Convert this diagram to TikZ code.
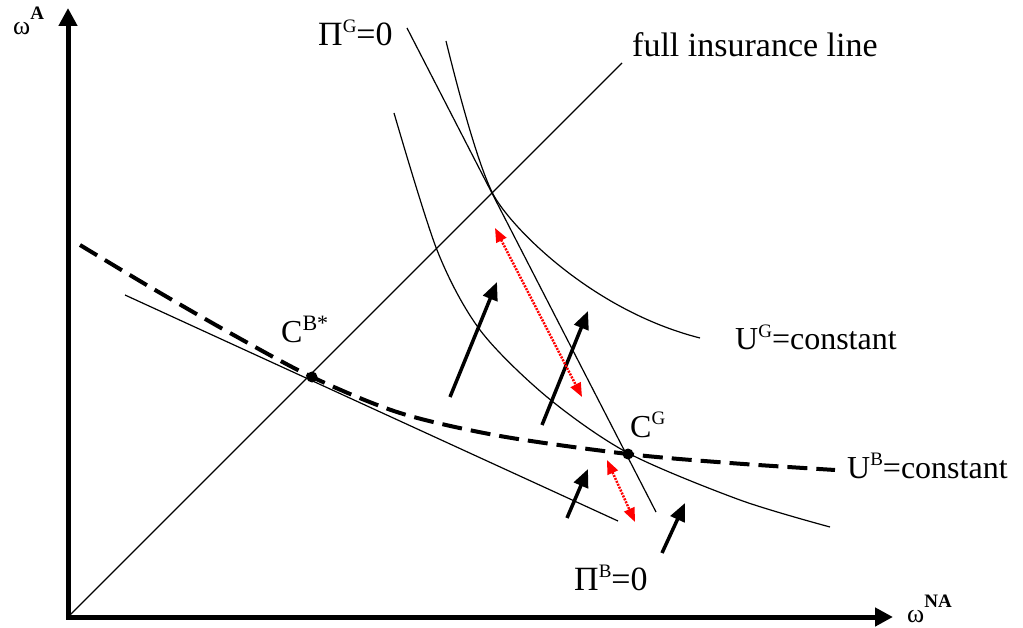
\documentclass[tikz,border=0pt]{standalone}
\usepackage{fontspec}
\setmainfont{Liberation Serif}
\usetikzlibrary{arrows.meta}
\newcommand\supx[1]{\raisebox{13pt}{\fontsize{19}{20}\selectfont #1}}
\newcommand\axsup[1]{\raisebox{15pt}{\fontsize{19}{20}\selectfont\bfseries #1}}
\begin{document}
\begin{tikzpicture}[x=1pt,y=-1pt,
  axis/.style={line width=5pt,{Triangle[length=18pt,width=18pt]}-{Triangle[length=18pt,width=18pt]}},
  thinline/.style={line width=1.2pt},
  ubcurve/.style={line width=4pt,dash pattern=on 20pt off 9pt},
  push/.style={line width=3.5pt,-{Triangle[length=18pt,width=15pt]}},
  slide/.style={red,line width=2.5pt,dash pattern=on 2pt off 1.2pt,{Triangle[length=14pt,width=11pt]}-{Triangle[length=14pt,width=11pt]}},
  dot/.style={circle,fill,inner sep=0pt,minimum size=11pt},
  lbl/.style={inner sep=0pt,anchor=base west,font=\fontsize{32}{36}\selectfont},
  pilbl/.style={lbl,font=\fontsize{34}{38}\selectfont},
  axlbl/.style={inner sep=0pt,anchor=base west,font=\fontsize{26}{30}\selectfont}]
\useasboundingbox (0,0) rectangle (1023,628);
% axes
\coordinate (O) at (68,617);
\coordinate (ytip) at (68,8);
\coordinate (xtip) at (893,617);
\draw[axis] (ytip) -- (O) -- (xtip);
\node[axlbl] (wA) at (13,35) {ω\axsup{A}};
\node[axlbl] (wNA) at (907,622) {ω\axsup{NA}};
% key points
\node[dot] (CB) at (312,377) {};
\node[dot] (CG) at (628,454) {};
% full insurance line
\coordinate (fil) at (622,63);
\draw[thinline] (O) -- (fil);
\node[lbl,font=\fontsize{34}{38}\selectfont] (filtxt) at (632,57) {full insurance line};
% zero-profit lines
\coordinate (pg1) at (407,28);
\coordinate (pg2) at (656,512);
\draw[thinline] (pg1) -- (pg2);
\node[pilbl] (pgtxt) at (318,46) {Π\supx{G}=0};
\coordinate (pb1) at (125,295);
\coordinate (pb2) at (618,521);
\draw[thinline] (pb1) -- (pb2);
\node[pilbl] (pbtxt) at (574,590) {Π\supx{B}=0};
% good-type indifference curves
\coordinate (ugh1) at (446,41);
\coordinate (ught) at (493,194);
\coordinate (ugh2) at (700,338);
\draw[thinline] (ugh1) .. controls (458,90) and (478,165) .. (ught)
   .. controls (509,225) and (590,310) .. (ugh2);
\node[lbl] (ugtxt) at (735,350) {U\supx{G}=constant};
\draw[thinline] plot[smooth] coordinates {(394,113) (437,250) (480,330) (547,397) (628,453) (740,500) (830,527)};
% bad-type indifference curve
\draw[ubcurve] plot[smooth] coordinates {(80,245) (150,287) (230,333) (312,377) (400,413) (500,436) (628,454) (730,463) (835,470)};
\node[lbl] (ubtxt) at (847,478) {U\supx{B}=constant};
% point labels
\node[lbl] (cgtxt) at (630,437) {C\supx{G}};
\node[lbl] (cbtxt) at (281,343) {C\raisebox{13pt}{\fontsize{22}{24}\selectfont B*}};
% black arrows
\coordinate (a1s) at (450,397); \coordinate (a1e) at (497,282);
\coordinate (a2s) at (542,425); \coordinate (a2e) at (588,311);
\coordinate (a3s) at (567,518); \coordinate (a3e) at (588,469);
\coordinate (a4s) at (662,553); \coordinate (a4e) at (685,503);
\draw[push] (a1s) -- (a1e);
\draw[push] (a2s) -- (a2e);
\draw[push] (a3s) -- (a3e);
\draw[push] (a4s) -- (a4e);
% red double arrows
\coordinate (r1s) at (495,228); \coordinate (r1e) at (582,397);
\coordinate (r2s) at (607,460); \coordinate (r2e) at (635,522);
\draw[slide] (r1s) -- (r1e);
\draw[slide] (r2s) -- (r2e);
\end{tikzpicture}
\end{document}
